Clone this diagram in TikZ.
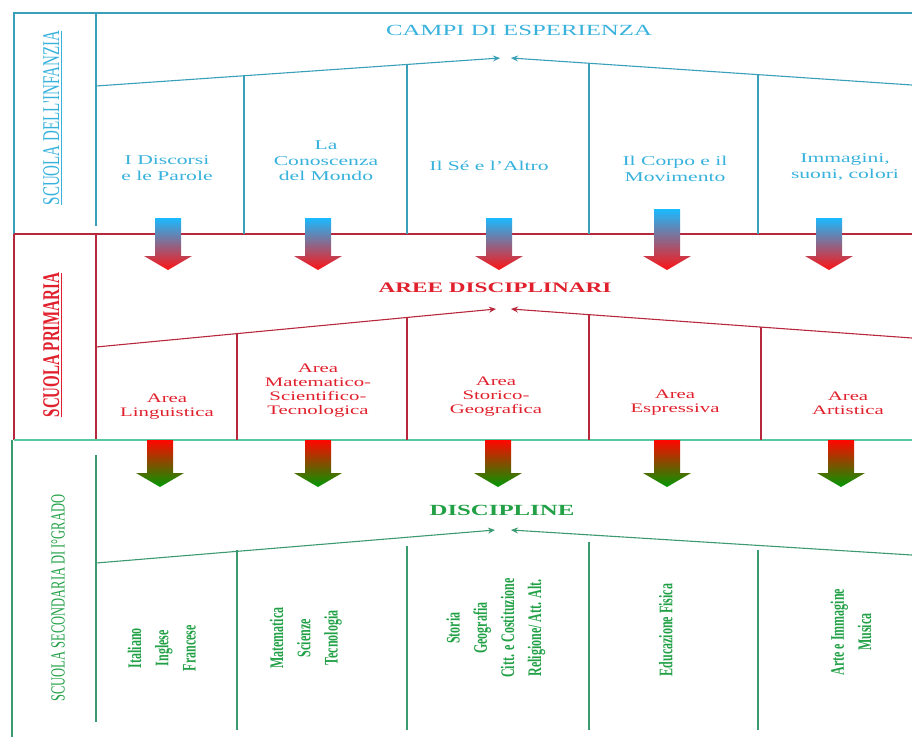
\documentclass[tikz,border=0pt]{standalone}
\usepackage{fontspec}
\setmainfont{Liberation Serif}[FakeStretch=1.6]
\newfontfamily\vfont{Liberation Serif}
\usetikzlibrary{arrows.meta}
\definecolor{infline}{HTML}{3A9FB8}
\definecolor{inftext}{HTML}{38B2DC}
\definecolor{primline}{HTML}{B8283C}
\definecolor{primtext}{HTML}{E0202C}
\definecolor{secline}{HTML}{3C9A70}
\definecolor{sectext}{HTML}{22A046}
\definecolor{sepline}{HTML}{58C8A0}
\newcommand{\vlabel}[1]{\scalebox{1.6}[1]{\rotatebox{90}{#1}}}

\begin{document}
\begin{tikzpicture}[x=1pt,y=-1pt,
  frame/.style={line width=1.3pt},
  divider/.style={line width=2pt},
  roof/.style={line width=1.1pt,-{Stealth[length=7pt,width=6pt]}},
  head/.style={inner sep=0pt,font=\fontsize{15.5}{17}\selectfont},
  box/.style={align=center,inner sep=0pt,font=\fontsize{13.5}{15.5}\selectfont},
  areabox/.style={align=center,inner sep=0pt,font=\fontsize{13}{14}\selectfont},
  vbox/.style={inner sep=0pt,font=\vfont\fontsize{12}{17}\selectfont\bfseries},
  school/.style={inner sep=0pt}]
\useasboundingbox (0,0) rectangle (912,740);

\draw[infline,frame] (912,13) -- (14,13) -- (14,234);
\draw[infline,frame] (96,13) -- (96,226);
\draw[primline,frame] (14,234) -- (912,234);
\draw[primline,frame] (14,234) -- (14,440);
\draw[primline,frame] (96,234) -- (96,440);
\draw[sepline,frame] (14,440) -- (912,440);
\draw[secline,frame] (12,440) -- (12,737);
\draw[secline,frame] (96,455) -- (96,722);

\foreach \x/\t in {244/76,407/65,589/63,758/74}
  \draw[infline,divider] (\x,\t) -- (\x,234);
\foreach \x/\t in {237/333,407/317,589/315,761/327}
  \draw[primline,divider] (\x,\t) -- (\x,440);
\foreach \x/\t in {237/550,407/546,589/542,758/550}
  \draw[secline,divider] (\x,\t) -- (\x,730);

\coordinate (il) at (96,86);
\coordinate (ia) at (500,58);
\coordinate (ib) at (511,58);
\coordinate (ir) at (912,85);
\draw[roof,infline] (il) -- (ia);
\draw[roof,infline] (ir) -- (ib);
\coordinate (pl) at (96,347);
\coordinate (pa) at (496,309);
\coordinate (pb) at (511,309);
\coordinate (pr) at (912,338);
\draw[roof,primline] (pl) -- (pa);
\draw[roof,primline] (pr) -- (pb);
\coordinate (sl) at (96,563);
\coordinate (sa) at (495,530);
\coordinate (sb) at (511,530);
\coordinate (sr) at (912,555);
\draw[roof,secline] (sl) -- (sa);
\draw[roof,secline] (sr) -- (sb);

\node[school,text=inftext] (infanzia) at (53,118)
  {\vlabel{\vfont\fontsize{15}{16}\selectfont\underline{SCUOLA DELL'INFANZIA}}};
\node[school,text=primtext] (primaria) at (53,345)
  {\vlabel{\vfont\fontsize{15}{16}\selectfont\bfseries\underline{SCUOLA PRIMARIA}}};
\node[school,text=sectext] (secondaria) at (58,598)
  {\vlabel{\vfont\fontsize{12.5}{14}\selectfont SCUOLA SECONDARIA DI I°GRADO}};

\node[head,text=inftext] (campi) at (519,30) {CAMPI DI ESPERIENZA};
\node[head,text=primtext,font=\fontsize{14.5}{16}\selectfont\bfseries] (aree) at (495,288) {AREE DISCIPLINARI};
\node[head,text=sectext,font=\fontsize{15.5}{17}\selectfont\bfseries] (discipline) at (502,510) {DISCIPLINE};

\node[box,text=inftext] (c1) at (167,168) {I Discorsi\\e le Parole};
\node[box,text=inftext] (c2) at (326,161) {La\\Conoscenza\\del Mondo};
\node[box,text=inftext] (c3) at (489,166) {Il Sé e l'Altro};
\node[box,text=inftext] (c4) at (675,169) {Il Corpo e il\\Movimento};
\node[box,text=inftext] (c5) at (845,167) {Immagini,\\suoni, colori};

\node[areabox,text=primtext] (a1) at (167,407) {Area\\Linguistica};
\node[areabox,text=primtext] (a2) at (318,391) {Area\\Matematico-\\Scientifico-\\Tecnologica};
\node[areabox,text=primtext] (a3) at (496,397) {Area\\Storico-\\Geografica};
\node[areabox,text=primtext] (a4) at (675,403) {Area\\Espressiva};
\node[areabox,text=primtext] (a5) at (848,403) {Area\\Artistica};

\node[vbox,text=sectext] (d1) at (163,648)
  {\vlabel{\begin{tabular}{@{}c@{}}Italiano\\Inglese\\Francese\end{tabular}}};
\node[vbox,text=sectext] (d2) at (305,638)
  {\vlabel{\begin{tabular}{@{}c@{}}Matematica\\Scienze\\Tecnologia\end{tabular}}};
\node[vbox,text=sectext] (d3) at (495,628)
  {\vlabel{\begin{tabular}{@{}c@{}}Storia\\Geografia\\Citt. e Costituzione\\Religione/ Att. Alt.\end{tabular}}};
\node[vbox,text=sectext] (d4) at (667,630)
  {\vlabel{\begin{tabular}{@{}c@{}}Educazione Fisica\end{tabular}}};
\node[vbox,text=sectext] (d5) at (852,632)
  {\vlabel{\begin{tabular}{@{}c@{}}Arte e Immagine\\Musica\end{tabular}}};

\foreach \cx/\ty in {168/218,318/218,499/218,667/209,829/218}
  \shade[top color=cyan!70!blue!90!white,middle color=blue!55!red!60!white,bottom color=red!90!pink]
    (\cx-13,\ty) -- (\cx+13,\ty) -- (\cx+13,256) -- (\cx+24,256) -- (\cx,270)
    -- (\cx-24,256) -- (\cx-13,256) -- cycle;
\foreach \cx in {160,318,498,667,841}
  \shade[top color=red!95!orange,middle color=orange!60!red!80!black,bottom color=green!60!black]
    (\cx-13,440) -- (\cx+13,440) -- (\cx+13,473) -- (\cx+24,473) -- (\cx,487)
    -- (\cx-24,473) -- (\cx-13,473) -- cycle;
\end{tikzpicture}
\end{document}
